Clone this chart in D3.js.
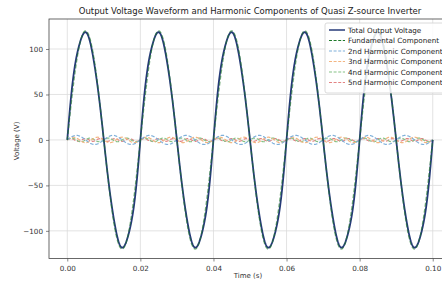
<!DOCTYPE html>
<html><head><meta charset="utf-8">
<script src="https://cdn.jsdelivr.net/npm/d3@7"></script>
<style>body{margin:0;background:#fff}svg{display:block}text{font-family:"DejaVu Sans",sans-serif}</style>
</head><body><svg id="c" width="442" height="281"></svg>
<script>
// Data
const fundamentalFrequency = 50; // Hz
const harmonicOrders = [1, 2, 3, 4, 5];
const harmonicAmplitudes = [120, 5, 3, 2, 1.5];
const harmonicPhases = [0, 0, 0, 0, 0];
const seriesNames = ["Total Output Voltage", "Fundamental Component", "2nd Harmonic Component",
  "3nd Harmonic Component", "4nd Harmonic Component", "5nd Harmonic Component"];
const xTicks = [0, 0.02, 0.04, 0.06, 0.08, 0.10];
const yTicks = [-100, -50, 0, 50, 100];
const timeSpan = [0, 0.1];

const colors = ["#263a78", "#1e7a2a", "#7fb0da", "#f3b581", "#86c286", "#e38383"];

const svg = d3.select("#c");
const L = 49, R = 451, T = 19, B = 258.5;
const x = d3.scaleLinear().domain([-0.005, 0.105]).range([L, R]);
const y = d3.scaleLinear().domain([-130.4, 133]).range([B, T]);

const times = d3.range(timeSpan[0], timeSpan[1] + 1e-9, 0.0001);
const comp = harmonicOrders.map((n, i) => times.map(t => ({t, v: harmonicAmplitudes[i] * Math.sin(2 * Math.PI * fundamentalFrequency * n * t + harmonicPhases[i])})));
const total = times.map((t, k) => ({t, v: d3.sum(comp, c => c[k].v)}));

svg.append("defs").append("clipPath").attr("id", "clip").append("rect")
  .attr("x", L).attr("y", T).attr("width", R - L).attr("height", B - T);

// grid
const g = svg.append("g");
g.selectAll(".gx").data(xTicks).join("line").attr("x1", d => x(d)).attr("x2", d => x(d))
  .attr("y1", T).attr("y2", B).attr("stroke", "#dcdcdc").attr("stroke-width", 0.8);
g.selectAll(".gy").data(yTicks).join("line").attr("y1", d => y(d)).attr("y2", d => y(d))
  .attr("x1", L).attr("x2", R).attr("stroke", "#dcdcdc").attr("stroke-width", 0.8);

const line = d3.line().x(d => x(d.t)).y(d => y(d.v));
const plot = svg.append("g").attr("clip-path", "url(#clip)");
// harmonics
for (let i = 4; i >= 1; i--) {
  plot.append("path").datum(comp[i]).attr("d", line).attr("fill", "none")
    .attr("stroke", colors[i + 1]).attr("stroke-width", 1.2).attr("stroke-dasharray", "3.5,1.8");
}
plot.append("path").datum(total).attr("d", line).attr("fill", "none")
  .attr("stroke", colors[0]).attr("stroke-width", 1.8);
plot.append("path").datum(comp[0]).attr("d", line).attr("fill", "none")
  .attr("stroke", colors[1]).attr("stroke-width", 1.3).attr("stroke-dasharray", "4,2").attr("opacity", 0.6);

// axes
const xa = svg.append("g").attr("transform", `translate(0,${B})`)
  .call(d3.axisBottom(x).tickValues(xTicks).tickFormat(d3.format(".2f")).tickSize(3).tickPadding(4));
const ya = svg.append("g").attr("transform", `translate(${L},0)`)
  .call(d3.axisLeft(y).tickValues(yTicks).tickFormat(d => d < 0 ? "\u2212" + Math.abs(d) : d).tickSize(3).tickPadding(3));
[xa, ya].forEach(a => {
  a.selectAll("text").attr("font-size", 7.2).attr("fill", "#333").attr("font-family", "DejaVu Sans");
  a.selectAll("line").attr("stroke", "#555").attr("stroke-width", 0.7);
  a.select(".domain").remove();
});
// frame
svg.append("rect").attr("x", L).attr("y", T).attr("width", R - L).attr("height", B - T)
  .attr("fill", "none").attr("stroke", "#444").attr("stroke-width", 0.8);

svg.append("text").attr("x", 250).attr("y", 14).attr("text-anchor", "middle")
  .attr("font-size", 8.5).attr("fill", "#222").text("Output Voltage Waveform and Harmonic Components of Quasi Z-source Inverter");
svg.append("text").attr("x", 248).attr("y", 278.3).attr("text-anchor", "middle")
  .attr("font-size", 7).attr("fill", "#333").text("Time (s)");
svg.append("text").attr("transform", "translate(19,141) rotate(-90)").attr("text-anchor", "middle")
  .attr("font-size", 7).attr("fill", "#333").text("Voltage (V)");

// legend
const lg = svg.append("g");
lg.append("rect").attr("x", 325).attr("y", 23).attr("width", 130).attr("height", 70).attr("rx", 2)
  .attr("fill", "#fff").attr("fill-opacity", 0.85).attr("stroke", "#d0d0d0").attr("stroke-width", 0.8);
seriesNames.forEach((name, i) => {
  const yy = 30 + i * 10.5;
  lg.append("line").attr("x1", 329).attr("x2", 345).attr("y1", yy).attr("y2", yy)
    .attr("stroke", colors[i]).attr("stroke-width", i === 0 ? 1.5 : 1.2)
    .attr("stroke-dasharray", i === 0 ? null : "3,1.6");
  lg.append("text").attr("x", 348).attr("y", yy + 2.5).attr("font-size", 7.2).attr("fill", "#222").text(name);
});
</script></body></html>
